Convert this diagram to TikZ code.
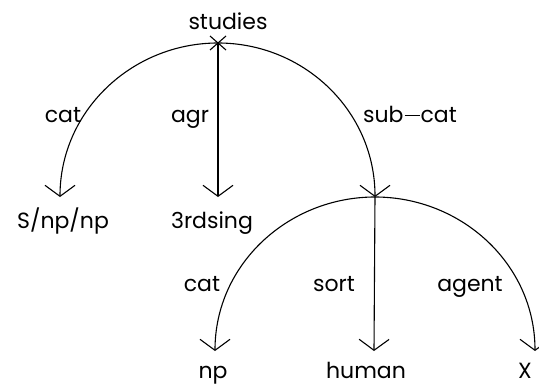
\documentclass[tikz,border=0pt]{standalone}
\usepackage{fontspec}
\setmainfont{Poppins}
\usetikzlibrary{arrows.meta}
\begin{document}
\begin{tikzpicture}[x=1pt,y=-1pt,
  edge/.style={line width=1.1pt,-{Straight Barb[length=11pt,width=30pt,line width=1.1pt]}},
  lbl/.style={inner sep=0pt,anchor=base,font=\fontsize{22}{25}\selectfont},
  every node/.style={inner sep=0pt}]
\useasboundingbox (0,0) rectangle (539,388);
% points
\coordinate (root) at (218,43);
\coordinate (catE) at (60,197);
\coordinate (agrE) at (218,197);
\coordinate (sub) at (375,197);
\coordinate (npE) at (215,351);
\coordinate (humE) at (374,351);
\coordinate (xE) at (535,351);
% edges
\draw[edge] (root) to[out=180,in=90] (catE);
\draw[edge] (root) -- (agrE);
\draw[edge] (root) to[out=0,in=90] (sub);
\draw[edge] (sub) to[out=180,in=90] (npE);
\draw[edge] (sub) -- (humE);
\draw[edge] (sub) to[out=0,in=90] (xE);
% cross at root
\draw[line width=1.1pt] (root) +(-8,-7) -- +(8,7) (root) +(-8,7) -- +(8,-7);
% labels
\node[lbl] (studies) at (228,29) {studies};
\node[lbl] (lcat) at (63,122) {cat};
\node[lbl] (lagr) at (190,122) {agr};
\node[lbl] (lsub) at (410,122) {sub\hspace{1pt}\raisebox{0.27em}{\rule{15pt}{1.2pt}}\hspace{1pt}cat};
\node[lbl] (vS) at (63,228) {S/np/np};
\node[lbl] (v3) at (212,228) {3rdsing};
\node[lbl] (lcat2) at (202,291) {cat};
\node[lbl] (lsort) at (334,291) {sort};
\node[lbl] (lagent) at (470,291) {agent};
\node[lbl] (vnp) at (213,378) {np};
\node[lbl] (vhum) at (366,378) {human};
\node[lbl] (vX) at (525,378) {X};
\end{tikzpicture}
\end{document}
